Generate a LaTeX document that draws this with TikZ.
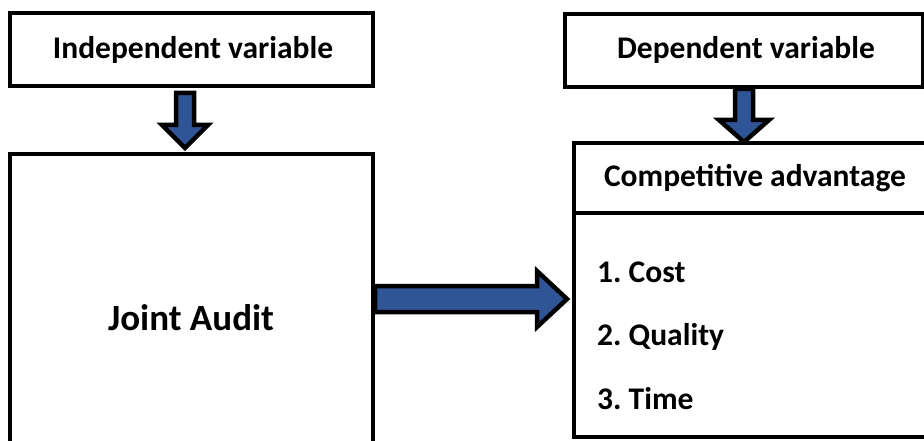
\documentclass[tikz,border=0pt]{standalone}
\usepackage{fontspec}
\setmainfont{Carlito}
\frenchspacing
\definecolor{arrowblue}{RGB}{47,85,151}
\tikzset{
  box/.style={draw=black, line width=4.5pt, fill=white},
  lbl/.style={font=\fontsize{31.5}{36}\selectfont\bfseries, inner sep=0pt},
  biglbl/.style={font=\fontsize{37}{42}\selectfont\bfseries, inner sep=0pt},
  blockarrow/.style={draw=black, fill=arrowblue, line width=4.5pt, line join=miter},
}
\begin{document}
\begin{tikzpicture}[x=1pt,y=-1pt]
\useasboundingbox (0,0) rectangle (924,441);
\begin{scope}
\clip (0,0) rectangle (924,441);
% boxes
\draw[box] (10,13) rectangle (373,86);
\node[lbl] (indep) at (193,50) {Independent variable};
\draw[box] (565,14) rectangle (923,87);
\node[lbl] (dep) at (746,50) {Dependent variable};
\draw[box] (10,154) rectangle (373,460);
\node[biglbl] (ja) at (191,318) {Joint Audit};
\draw[box] (574,143) rectangle (940,213);
\node[lbl] (comp) at (755,178) {Competitive advantage};
\draw[box] (574,213) rectangle (940,437);
\node[lbl, anchor=base west] (c1) at (597,282) {1. Cost};
\node[lbl, anchor=base west] (c2) at (597,345) {2. Quality};
\node[lbl, anchor=base west] (c3) at (597,409) {3. Time};
% block arrows
\draw[blockarrow] (176,93) -- (194,93) -- (194,125) -- (208,125) -- (185,148) -- (162,125) -- (176,125) -- cycle;
\draw[blockarrow] (735,89) -- (753,89) -- (753,120) -- (769,120) -- (744,142) -- (719,120) -- (735,120) -- cycle;
\draw[blockarrow] (375,286) -- (537,286) -- (537,271) -- (567,299) -- (537,327) -- (537,312) -- (375,312) -- cycle;
\end{scope}
\end{tikzpicture}
\end{document}
